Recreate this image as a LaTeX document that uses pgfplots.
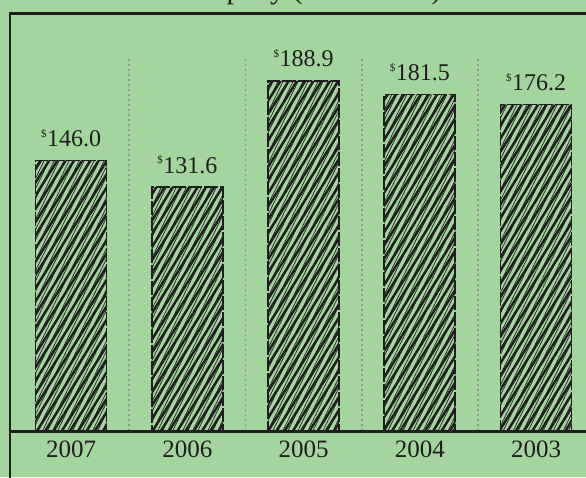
\documentclass[border=0pt]{standalone}
\usepackage{fontspec}
\setmainfont{Liberation Serif}
\usepackage{pgfplots}
\pgfplotsset{compat=1.18}
\usetikzlibrary{patterns.meta}
\definecolor{bg}{RGB}{165,213,158}
\definecolor{ink}{RGB}{30,30,30}
\definecolor{dotgray}{RGB}{145,150,145}
\begin{document}
\begin{tikzpicture}
\fill[bg] (0pt,0pt) rectangle (586pt,477pt);
\begin{scope}
\clip (0pt,0pt) rectangle (586pt,477pt);
\begin{axis}[
  at={(10pt,46pt)}, anchor=south west,
  x=116.25pt, y=1.853pt,
  xmin=-0.525, xmax=4.6, ymin=0, ymax=225,
  axis line style={draw=none},
  major tick length=0pt,
  ytick=\empty,
  xtick={0,1,2,3,4},
  xticklabels={2007,2006,2005,2004,2003},
  xticklabel style={font=\fontsize{25}{30}\selectfont, text=ink, inner sep=0pt, yshift=-10pt},
  /pgf/number format/assume math mode=true,
  clip=false,
  nodes near coords={\textsuperscript{\fontsize{11}{12}\selectfont\$}\pgfmathprintnumber[fixed,fixed zerofill,precision=1]{\pgfplotspointmeta}},
  every node near coord/.append style={font=\fontsize{24}{28}\selectfont, text=ink, anchor=south, inner sep=0pt, yshift=13pt},
]
\draw[dotgray, dash pattern=on 1.6pt off 3.4pt, line width=1.8pt] (axis cs:0.5,0) -- (axis cs:0.5,202);
\draw[dotgray, dash pattern=on 1.6pt off 3.4pt, line width=1.8pt] (axis cs:1.5,0) -- (axis cs:1.5,202);
\draw[dotgray, dash pattern=on 1.6pt off 3.4pt, line width=1.8pt] (axis cs:2.5,0) -- (axis cs:2.5,202);
\draw[dotgray, dash pattern=on 1.6pt off 3.4pt, line width=1.8pt] (axis cs:3.5,0) -- (axis cs:3.5,202);
\addplot[ybar, bar width=71pt, fill=bg, draw=ink, line width=1.6pt, dash pattern=on 14pt off 2pt,
  postaction={pattern={Lines[angle=58,distance=7pt,line width=2.5pt]}, pattern color=ink},
  postaction={pattern={Lines[angle=64,distance=4.5pt,line width=0.7pt]}, pattern color=ink}]
  coordinates {(0,146.0) (1,131.6) (2,188.9) (3,181.5) (4,176.2)};
\end{axis}
\node[anchor=base, font=\fontsize{30}{36}\selectfont, text=ink] at (305pt,478.5pt) {Company (in millions)};
\draw[ink, line width=2.5pt] (10pt,-20pt) -- (10pt,463.5pt) -- (600pt,463.5pt);
\draw[ink, line width=2.5pt] (10pt,45.5pt) -- (600pt,45.5pt);
\end{scope}
\pgfresetboundingbox
\useasboundingbox (0pt,0pt) rectangle (586pt,477pt);
\end{tikzpicture}
\end{document}
